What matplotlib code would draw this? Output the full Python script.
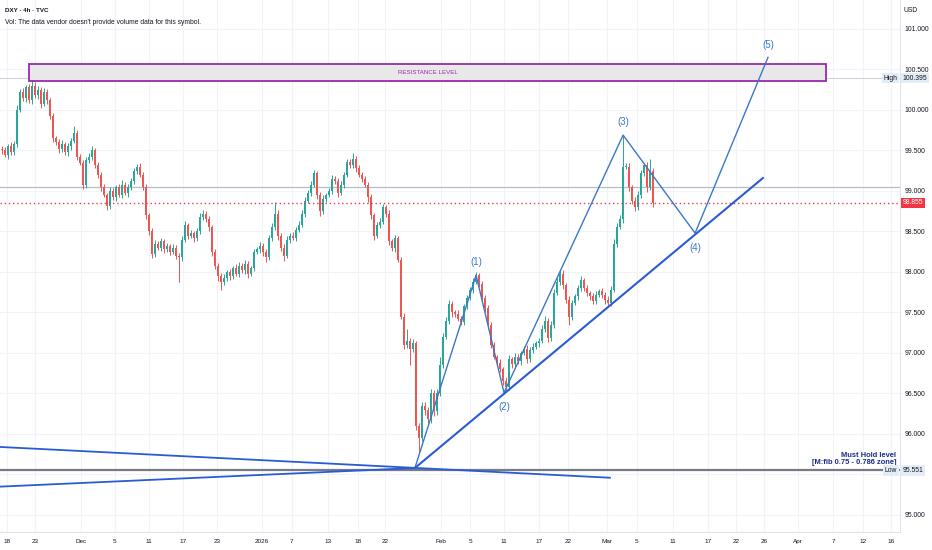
import numpy as np
import matplotlib.pyplot as plt
from matplotlib.patches import Rectangle
from matplotlib.transforms import blended_transform_factory

plt.rcParams['font.family'] = ['Liberation Sans', 'DejaVu Sans']

# 8h-ish candles, x = slot index (one slot per candle), closes
closes = [
    99.50, 99.45, 99.55, 99.48, 99.58, 100.00, 100.22, 100.15, 100.28, 100.12,
    100.30, 100.18, 100.25, 100.08, 100.22, 100.12, 99.92, 99.65, 99.60, 99.52,
    99.58, 99.48, 99.55, 99.62, 99.72, 99.42, 99.35, 99.08, 99.38, 99.42,
    99.50, 99.32, 99.20, 99.05, 98.95, 98.82, 99.00, 98.92, 99.05, 98.95,
    99.08, 98.98, 99.05, 99.12, 99.25, 99.30, 99.20, 99.05, 98.70, 98.50,
    98.22, 98.35, 98.30, 98.38, 98.28, 98.32, 98.25, 98.30, 98.20, 98.18,
    98.40, 98.58, 98.45, 98.48, 98.42, 98.50, 98.68, 98.72, 98.65, 98.55,
    98.25, 98.08, 97.95, 97.88, 97.92, 98.00, 97.95, 98.05, 97.98, 98.08,
    98.02, 98.10, 97.98, 98.05, 98.25, 98.28, 98.32, 98.25, 98.18, 98.42,
    98.55, 98.72, 98.45, 98.30, 98.20, 98.40, 98.45, 98.42, 98.52, 98.58,
    98.72, 98.88, 98.98, 99.08, 99.22, 98.95, 98.75, 98.90, 98.95, 99.00,
    99.15, 99.12, 98.98, 99.08, 99.20, 99.36, 99.32, 99.40, 99.28, 99.20,
    99.15, 99.08, 98.92, 98.70, 98.45, 98.58, 98.62, 98.80, 98.72, 98.38,
    98.30, 98.42, 98.15, 97.45, 97.10, 97.15, 97.05, 97.12, 96.10, 95.95,
    96.35, 96.30, 96.18, 96.50, 96.28, 96.50, 96.85, 97.20, 97.40, 97.60,
    97.50, 97.48, 97.42, 97.38, 97.58, 97.68, 97.78, 97.88, 97.96, 97.85,
    97.68, 97.55, 97.35, 97.10, 96.95, 96.88, 96.80, 96.66, 96.58, 96.92,
    96.86, 96.95, 96.90, 97.00, 97.05, 96.92, 97.04, 97.08, 97.12, 97.15,
    97.30, 97.40, 97.18, 97.35, 97.74, 97.88, 97.98, 97.84, 97.66, 97.45,
    97.62, 97.70, 97.80, 97.90, 97.80, 97.74, 97.70, 97.64, 97.72, 97.76,
    97.72, 97.66, 97.62, 97.78, 98.35, 98.56, 98.65, 99.30, 99.30, 99.05,
    98.88, 98.80, 98.95, 99.22, 99.32, 99.05, 99.25, 98.855,
]
first_open = 99.52

# wick lengths in hundredths of a point
up_wick = [
    3, 4, 3, 5, 4, 6, 4, 5, 3, 4,  9, 4, 5, 3, 5, 4, 3, 4, 3, 4,
    5, 3, 4, 4, 8, 3, 4, 3, 4, 5,  6, 3, 4, 3, 4, 3, 5, 4, 3, 4,
    5, 3, 4, 4, 4, 3, 4, 3, 4, 3,  4, 5, 3, 4, 3, 4, 3, 4, 3, 3,
    4, 5, 3, 4, 3, 4, 5, 4, 3, 4,  3, 4, 3, 4, 5, 3, 4, 3, 5, 4,
    3, 5, 4, 3, 4, 3, 5, 4, 3, 4,  5, 15, 4, 3, 4, 5, 3, 4, 3, 5,
    4, 5, 3, 4, 4, 3, 4, 5, 3, 4,  5, 3, 4, 4, 4, 3, 4, 7, 3, 4,
    3, 4, 3, 4, 3, 4, 5, 4, 3, 4,  3, 4, 3, 3, 4, 15, 3, 5, 3, 4,
    5, 4, 3, 6, 4, 5, 10, 5, 4, 6,  4, 3, 5, 4, 3, 4, 3, 4, 4, 3,
    4, 3, 4, 3, 4, 3, 4, 3, 4, 6,  3, 5, 4, 3, 4, 5, 3, 4, 3, 4,
    5, 6, 3, 4, 5, 4, 5, 4, 3, 4,  4, 3, 4, 5, 3, 4, 3, 4, 5, 3,
    4, 3, 4, 5, 6, 4, 5, 38, 5, 4,  3, 4, 5, 4, 3, 4, 15, 4,
]
dn_wick = [
    4, 3, 5, 4, 3, 4, 3, 4, 5, 3,  4, 3, 4, 5, 3, 4, 3, 4, 3, 5,
    4, 3, 5, 4, 3, 4, 3, 6, 4, 3,  4, 3, 4, 5, 3, 6, 4, 3, 4, 3,
    4, 3, 5, 4, 3, 4, 3, 4, 5, 4,  5, 4, 3, 4, 5, 3, 4, 3, 4, 30,
    4, 3, 4, 3, 5, 4, 3, 4, 3, 4,  5, 4, 6, 10, 4, 3, 5, 4, 3, 4,
    3, 4, 5, 3, 4, 3, 4, 5, 6, 3,  4, 3, 5, 4, 6, 3, 4, 3, 4, 3,
    3, 4, 3, 4, 3, 5, 6, 3, 4, 3,  4, 3, 5, 3, 4, 3, 4, 3, 4, 3,
    4, 3, 5, 4, 6, 3, 4, 3, 4, 5,  4, 5, 3, 3, 5, 4, 20, 4, 5, 20,
    4, 6, 5, 4, 6, 4, 3, 4, 3, 4,  5, 4, 3, 4, 3, 4, 3, 4, 3, 4,
    3, 4, 5, 4, 3, 4, 3, 5, 6, 4,  4, 3, 4, 5, 3, 4, 3, 4, 3, 4,
    3, 4, 5, 3, 4, 3, 4, 5, 4, 10,  4, 3, 5, 4, 3, 4, 5, 3, 4, 3,
    4, 5, 3, 4, 3, 4, 3, 4, 3, 5,  4, 5, 3, 4, 3, 6, 4, 5,
]

# date axis labels and their slot positions
date_labels = ['18', '23', 'Dec', '5', '11', '17', '23', '2026', '7', '13', '18', '22',
               'Feb', '5', '11', '17', '22', 'Mar', '5', '11', '17', '22', '26',
               'Apr', '7', '12', '16']
date_slots = [2.2, 11.7, 27.0, 38.3, 49.7, 61.0, 72.3, 87.3, 97.3, 109.3, 119.3, 128.3,
              147.0, 156.7, 168.0, 179.7, 189.3, 202.3, 212.3, 224.3, 236.0, 245.3, 254.7,
              266.0, 277.7, 287.7, 297.0]
price_ticks = [95.0, 95.5, 96.0, 96.5, 97.0, 97.5, 98.0, 98.5, 99.0, 99.5, 100.0, 100.5, 101.0]

# drawings (slot, price)
wave_slots = [138.3, 158.7, 168.0, 207.7, 231.7, 256.0]
wave_prices = [95.58, 97.96, 96.51, 99.69, 98.48, 100.65]
wave_names = ['(1)', '(2)', '(3)', '(4)', '(5)']
trend_slots = [138.3, 254.3]
trend_prices = [95.58, 99.16]
fan_upper_slots = [0.0, 203.3]
fan_upper_prices = [95.84, 95.46]
fan_lower_slots = [0.0, 138.3]
fan_lower_prices = [95.35, 95.58]
resistance_slots = [9.7, 275.3]
resistance_prices = [100.36, 100.57]
session_high = 100.395
session_low = 95.551
last_price = 98.855
ref_line = 99.05

UP = '#26a69a'
DOWN = '#ef5350'
WAVE = '#3a78c9'
TREND = '#2a5bd7'
TXT = '#131722'
FS = 4.9

fig = plt.figure(figsize=(9.32, 5.5), dpi=100)
ax = fig.add_axes([0, 18 / 550, 900 / 932, 532 / 550])
ax.set_xlim(0, 300)
ax.set_ylim(94.79, 101.358)

# grid
for t in price_ticks:
    ax.axhline(t, color='#f0f3fa', lw=0.8, zorder=0)
for s in date_slots:
    ax.axvline(s, color='#f0f3fa', lw=0.8, zorder=0)

# candles
closes_arr = np.array(closes)
opens = np.concatenate([[first_open], closes_arr[:-1]])
highs = np.maximum(opens, closes_arr) + np.array(up_wick) / 100
lows = np.minimum(opens, closes_arr) - np.array(dn_wick) / 100
xs = np.arange(len(closes)) + 0.5
colors = [UP if c >= o else DOWN for o, c in zip(opens, closes_arr)]
ax.vlines(xs, lows, highs, colors=colors, lw=0.7, zorder=3)
bodies = np.maximum(np.abs(closes_arr - opens), 0.012)
ax.bar(xs, bodies, bottom=np.minimum(opens, closes_arr), width=0.62,
       color=colors, lw=0, zorder=4)

# horizontal levels
ax.axhline(session_high, color='#d1d4dc', lw=0.8, zorder=2)
ax.axhline(ref_line, color='#b8bcc6', lw=0.9, zorder=2)
ax.axhline(last_price, color='#f23645', lw=1.0, ls=(0, (1, 2)), zorder=5)
ax.axhline(session_low, color='#787b86', lw=1.6, zorder=2)

# resistance box
ax.add_patch(Rectangle((resistance_slots[0], resistance_prices[0]),
                       resistance_slots[1] - resistance_slots[0],
                       resistance_prices[1] - resistance_prices[0],
                       facecolor='#e8e8e8', edgecolor='#9c27b0', lw=1.3, zorder=6))
ax.text(sum(resistance_slots) / 2, sum(resistance_prices) / 2, 'RESISTANCE LEVEL',
        color='#9c27b0', fontsize=4.4, ha='center', va='center', zorder=7)

# elliott wave path and labels
ax.plot(wave_slots, wave_prices, color=WAVE, lw=1.0, zorder=8)
label_dy = [0.16, -0.18, 0.16, -0.18, 0.15]
for name, s, p, dy in zip(wave_names, wave_slots[1:], wave_prices[1:], label_dy):
    ax.text(s, p + dy, name, color=WAVE, fontsize=7.0, ha='center', va='center', zorder=9)

# trend lines
ax.plot(trend_slots, trend_prices, color=TREND, lw=1.5, zorder=8)
ax.plot(fan_upper_slots, fan_upper_prices, color=TREND, lw=1.3, zorder=8)
ax.plot(fan_lower_slots, fan_lower_prices, color=TREND, lw=1.3, zorder=8)

ax.text(298.7, session_low + 0.05, 'Must Hold level\n[M:fib 0.75 - 0.786 zone]',
        color='#1c2b8c', fontsize=5.4, fontweight='bold', ha='right', va='bottom',
        linespacing=1.0, zorder=9)

# axes styling
for side in ['top', 'left']:
    ax.spines[side].set_visible(False)
ax.spines['right'].set_color('#e0e3eb')
ax.spines['bottom'].set_color('#e0e3eb')
ax.yaxis.tick_right()
ax.set_yticks(price_ticks)
# the Low tag sits over the 95.500 label on the scale
ax.set_yticklabels(['' if t == 95.5 else '%.3f' % t for t in price_ticks])
ax.set_xticks(date_slots)
ax.set_xticklabels(date_labels)
ax.tick_params(axis='y', length=0, pad=3, labelsize=FS, labelcolor=TXT)
ax.tick_params(axis='x', length=0, pad=5, labelsize=4.6, labelcolor=TXT)

# price tags on the scale
tr = blended_transform_factory(ax.transAxes, ax.transData)
ax.text(1.003, last_price, '%.3f' % last_price, transform=tr, fontsize=FS, color='white',
        va='center', ha='left', clip_on=False, zorder=10,
        bbox=dict(boxstyle='square,pad=0.25', fc='#f23645', ec='none'))
for val, tag in [(session_high, 'High'), (session_low, 'Low')]:
    ax.text(1.003, val, '%.3f' % val, transform=tr, fontsize=FS, color=TXT,
            va='center', ha='left', clip_on=False, zorder=10,
            bbox=dict(boxstyle='square,pad=0.25', fc='#e3ecf7', ec='none'))
    ax.text(0.997, val, tag, transform=tr, fontsize=FS, color=TXT,
            va='center', ha='right', zorder=10,
            bbox=dict(boxstyle='square,pad=0.25', fc='#e3ecf7', ec='none'))

fig.text(904 / 932, 1 - 11 / 550, 'USD', fontsize=FS, color=TXT, va='center', ha='left')
fig.text(5 / 932, 1 - 11 / 550, 'DXY · 4h · TVC', fontsize=4.5, color=TXT,
         fontweight='bold', va='center')
fig.text(5 / 932, 1 - 23 / 550, "Vol: The data vendor doesn't provide volume data for this symbol.",
         fontsize=4.9, color=TXT, va='center')

fig.savefig('out.png', dpi=100)
